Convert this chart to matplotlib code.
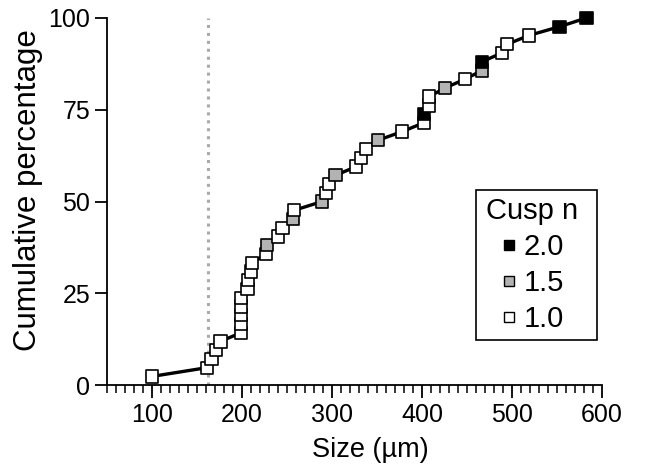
import numpy as np
import matplotlib.pyplot as plt
from matplotlib.lines import Line2D
from matplotlib.patches import Rectangle
from matplotlib.ticker import MultipleLocator

plt.rcParams['font.family'] = ['Liberation Sans', 'DejaVu Sans']

# sizes in um, sorted, with cusp number of each sample
size_um = [100, 161, 166, 171, 176, 199, 199, 199, 199, 199,
           206, 207, 210, 211, 227, 228, 240, 245, 257, 258,
           289, 293, 297, 304, 327, 332, 338, 351, 378, 402,
           402, 408, 408, 426, 448, 467, 467, 489, 495, 519,
           553, 583]
cusp_n = [1.0, 1.0, 1.0, 1.0, 1.0, 1.0, 1.0, 1.0, 1.0, 1.0,
          1.0, 1.0, 1.0, 1.0, 1.0, 1.5, 1.0, 1.0, 1.5, 1.0,
          1.5, 1.0, 1.0, 1.5, 1.0, 1.0, 1.0, 1.5, 1.0, 1.0,
          2.0, 1.0, 1.0, 1.5, 1.0, 1.5, 2.0, 1.0, 1.0, 1.0,
          2.0, 2.0]
cusp_levels = [2.0, 1.5, 1.0]
cusp_colors = {2.0: '#000000', 1.5: '#b3b3b3', 1.0: '#ffffff'}
cutoff = 162

n = len(size_um)
cum_pct = np.arange(1, n + 1) / n * 100

fig = plt.figure(figsize=(6.45, 4.72), dpi=100)
ax = fig.add_axes([0.166, 0.184, 0.767, 0.778])

ax.axvline(cutoff, color='#aaaaaa', lw=2.2, ls=(0, (1, 1.6)), zorder=1)
ax.plot(size_um, cum_pct, color='black', lw=2.4, zorder=2, clip_on=False)
ax.scatter(size_um, cum_pct, marker='s', s=78,
           c=[cusp_colors[c] for c in cusp_n], edgecolors='black',
           linewidths=1.2, zorder=3, clip_on=False)

ax.set_xlim(50, 600)
ax.set_ylim(0, 100)
ax.xaxis.set_major_locator(MultipleLocator(100))
ax.xaxis.set_minor_locator(MultipleLocator(10))
ax.yaxis.set_major_locator(MultipleLocator(25))

for s in ['top', 'right']:
    ax.spines[s].set_visible(False)
for s in ['left', 'bottom']:
    ax.spines[s].set_linewidth(1.3)

ax.tick_params(axis='both', which='major', length=9, width=1.3,
               labelsize=18, colors='black')
ax.tick_params(axis='x', which='minor', length=6, width=1.1)
ax.tick_params(axis='x', pad=4)
ax.tick_params(axis='y', pad=3)

ax.set_xlabel('Size (\u00b5m)', fontsize=19.5)
ax.set_ylabel('Cumulative percentage', fontsize=22.5)
ax.xaxis.set_label_coords(0.532, -0.14)
ax.yaxis.set_label_coords(-0.13, 0.53)

# legend box drawn separately so it can be wider than its content
box = (0.745, 0.123, 0.245, 0.408)
ax.add_patch(Rectangle(box[:2], box[2], box[3], transform=ax.transAxes,
                       fill=False, edgecolor='black', lw=1.2,
                       clip_on=False, zorder=4))
handles = [Line2D([], [], marker='s', ls='none', markersize=6.5,
                  markerfacecolor=cusp_colors[c], markeredgecolor='black',
                  markeredgewidth=1.0, label=f'{c:.1f}')
           for c in cusp_levels]
leg = ax.legend(handles=handles, title='Cusp n', loc='center',
                bbox_to_anchor=(box[0] + box[2] / 2 - 0.008, box[1] + box[3] / 2),
                fontsize=21, title_fontsize=21, frameon=False,
                handletextpad=0.2, handlelength=0.6, borderpad=0,
                labelspacing=0.27)

fig.savefig('out.png', dpi=100)
